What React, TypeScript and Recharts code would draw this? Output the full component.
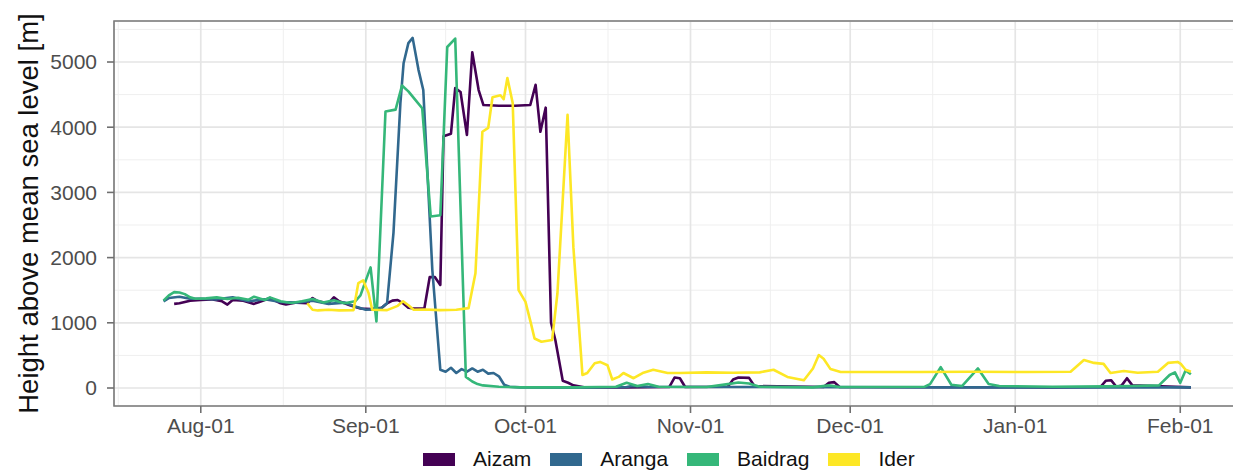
import { LineChart, Line, XAxis, YAxis, CartesianGrid, Legend, ReferenceArea } from 'recharts';

// days counted from Aug-01
const monthTicks = [0, 31, 61, 92, 122, 153, 184];
const monthLabels = ['Aug-01', 'Sep-01', 'Oct-01', 'Nov-01', 'Dec-01', 'Jan-01', 'Feb-01'];
const minorDays = [-15.5, 15.5, 46, 76.5, 107, 137.5, 168.5];
const heightTicks = [0, 1000, 2000, 3000, 4000, 5000];
const minorHeights = [500, 1500, 2500, 3500, 4500, 5500];

const seriesNames = ['Aizam', 'Aranga', 'Baidrag', 'Ider'];
const seriesColors = ['#440154', '#31688E', '#35B779', '#FDE725'];

// [day, height]
const aizam: [number, number][] = [
  [-5, 1290], [-4, 1300], [-2, 1340], [0, 1350], [2, 1360], [4, 1330], [5, 1280], [6, 1350],
  [8, 1340], [10, 1290], [11, 1320], [13, 1380], [15, 1300], [16, 1280], [18, 1310], [20, 1300],
  [21, 1380], [22, 1330], [24, 1300], [25, 1390], [26, 1330], [28, 1270], [30, 1220], [32, 1210],
  [34, 1230], [35, 1300], [36, 1340], [37, 1350], [38, 1300], [39, 1230], [40, 1220], [42, 1220],
  [43, 1700], [44, 1700], [45, 1580], [45.6, 3860], [47, 3900], [47.8, 4600], [48.8, 4540],
  [50, 3880], [51, 5150], [52.2, 4570], [53.1, 4340], [56, 4330], [59, 4330], [61.9, 4340],
  [62.9, 4650], [63.8, 3930], [64.8, 4300], [65.8, 1000], [66.6, 740], [68, 110], [69, 80],
  [70, 40], [72, 10], [80, 10], [88, 15], [89, 160], [90, 150], [91, 15], [99, 20], [100, 130],
  [101, 160], [103, 155], [104, 30], [117, 15], [118, 80], [119, 90], [120, 15], [160, 10],
  [169, 15], [170, 110], [171, 120], [172, 20], [173, 40], [174, 150], [175, 40], [186, 10],
];

const aranga: [number, number][] = [
  [-7, 1330], [-6, 1380], [-4, 1400], [-2, 1370], [0, 1370], [3, 1360], [6, 1390], [9, 1330],
  [12, 1360], [15, 1320], [18, 1310], [21, 1340], [24, 1290], [27, 1310], [29, 1250], [31, 1200],
  [33, 1210], [34, 1230], [35, 1300], [36.2, 2380], [37.5, 4370], [38.1, 4980], [39, 5290],
  [39.8, 5370], [40.9, 4880], [41.8, 4570], [43.5, 1810], [45, 280], [46, 250], [47, 310],
  [48, 230], [49, 290], [50, 250], [51, 300], [52, 250], [53, 280], [54, 220], [55, 230],
  [56, 180], [57, 50], [58, 20], [60, 10], [70, 5], [80, 15], [81, 30], [84, 20], [100, 15],
  [140, 10], [186, 10],
];

const baidrag: [number, number][] = [
  [-7, 1340], [-6, 1420], [-5, 1470], [-4, 1465], [-3, 1440], [-2, 1390], [-1, 1370], [1, 1375],
  [3, 1390], [5, 1365], [7, 1385], [9, 1355], [10, 1400], [12, 1350], [13, 1390], [15, 1330],
  [17, 1305], [19, 1330], [21, 1365], [23, 1310], [25, 1345], [27, 1300], [29, 1330], [30, 1420],
  [31, 1650], [31.9, 1850], [33, 1020], [34.7, 4240], [36.6, 4270], [37.8, 4640], [39, 4550],
  [40.5, 4400], [41.6, 4290], [43.2, 2630], [45, 2650], [46.3, 5230], [47.8, 5360], [49.8, 170],
  [51, 100], [52, 60], [53, 40], [56, 20], [60, 10], [70, 10], [75, 15], [78, 20], [80, 80],
  [82, 30], [84, 60], [86, 20], [95, 15], [99, 60], [101, 85], [103, 70], [105, 20], [115, 10],
  [118, 40], [120, 15], [136, 20], [137, 60], [139, 320], [141, 50], [143, 30], [146, 300],
  [148, 60], [150, 30], [160, 20], [170, 25], [175, 30], [180, 40], [182, 200], [183, 240],
  [184, 80], [185, 270], [186, 210],
];

const ider: [number, number][] = [
  [20, 1300], [21, 1200], [22, 1190], [24, 1200], [26, 1190], [28.7, 1195], [29.6, 1610],
  [30.5, 1650], [31.5, 1460], [32.2, 1200], [35, 1195], [37, 1260], [38, 1330], [39, 1270],
  [40, 1200], [42, 1205], [45, 1195], [48, 1200], [50.3, 1225], [51.6, 1760], [52.9, 3930],
  [54, 3990], [54.8, 4460], [56.3, 4490], [56.9, 4430], [57.6, 4755], [58.6, 4370], [59.7, 1500],
  [61, 1320], [62, 1000], [62.7, 760], [64, 710], [66, 735], [67, 1450], [68.9, 4190],
  [70, 2160], [71.7, 200], [72.6, 230], [74, 380], [75, 400], [76.4, 350], [77.3, 130],
  [78.5, 170], [79.4, 230], [81.3, 150], [83, 230], [85, 280], [87.7, 230], [90, 230], [95, 240],
  [100, 235], [105, 240], [107.6, 280], [110.2, 170], [113.3, 120], [115, 300], [116.1, 505],
  [117, 450], [118.3, 290], [120.2, 245], [125, 245], [135, 245], [145, 250], [155, 245],
  [163.4, 250], [165.9, 430], [167.8, 385], [169.6, 370], [170.9, 230], [173.4, 260], [176, 235],
  [179.8, 250], [181.7, 385], [183.5, 400], [184.1, 370], [185, 280], [186, 250],
];

const seriesData = [aizam, aranga, baidrag, ider];

const FONT = '"Liberation Sans", Arial, Helvetica, sans-serif';
const X_DOMAIN: [number, number] = [-16.3, 195.6];
const Y_DOMAIN: [number, number] = [-276, 5629];

const toPoints = (pairs: [number, number][]) => pairs.map(([d, v]) => ({ d, v }));

const renderTitle = (props: any) => {
  const vb = props.viewBox;
  const cx = vb.x + 38;
  const cy = vb.y + vb.height / 2;
  return (
    <text
      x={cx}
      y={cy}
      transform={`rotate(-90 ${cx} ${cy})`}
      textAnchor="middle"
      fontFamily={FONT}
      fontSize={27.5}
      fill="#111"
    >
      Height above mean sea level [m]
    </text>
  );
};

const KeyLegend = () => (
  <div
    style={{
      display: 'flex',
      alignItems: 'center',
      height: 30,
      paddingLeft: 423,
      fontFamily: FONT,
      fontSize: 21,
      color: '#111',
    }}
  >
    {seriesNames.map((name, i) => (
      <div key={name} style={{ display: 'flex', alignItems: 'center', marginRight: 19 }}>
        <span style={{ display: 'inline-block', width: 32, height: 13, background: seriesColors[i], marginRight: 18 }} />
        <span>{name}</span>
      </div>
    ))}
  </div>
);

export default function App() {
  return (
    <div style={{ position: 'absolute', left: 0, top: 0, width: 1233, height: 474, overflow: 'hidden', background: '#fff' }}>
      <LineChart width={1260} height={474} margin={{ top: 21, right: 18, bottom: 0, left: 0 }}>
        <CartesianGrid
          stroke="#EFEFEF"
          strokeWidth={1}
          horizontalValues={minorHeights}
          verticalValues={minorDays}
        />
        <CartesianGrid stroke="#E5E5E5" strokeWidth={1.7} />
        <XAxis
          type="number"
          dataKey="d"
          domain={X_DOMAIN}
          allowDataOverflow
          ticks={monthTicks}
          interval={0}
          tickFormatter={(d: number) => monthLabels[monthTicks.indexOf(d)] ?? ''}
          height={38}
          tickSize={7}
          tickMargin={5}
          axisLine={false}
          tickLine={{ stroke: '#6f6f6f', strokeWidth: 1.6 }}
          tick={{ fontSize: 21, fontFamily: FONT, fill: '#4D4D4D' }}
        />
        <YAxis
          type="number"
          domain={Y_DOMAIN}
          allowDataOverflow
          ticks={heightTicks}
          interval={0}
          width={114}
          tickSize={7}
          tickMargin={10}
          axisLine={false}
          tickLine={{ stroke: '#6f6f6f', strokeWidth: 1.6 }}
          tick={{ fontSize: 21, fontFamily: FONT, fill: '#4D4D4D' }}
          label={renderTitle}
        />
        {seriesData.map((pairs, i) => (
          <Line
            key={seriesNames[i]}
            data={toPoints(pairs)}
            dataKey="v"
            name={seriesNames[i]}
            type="linear"
            stroke={seriesColors[i]}
            strokeWidth={2.6}
            strokeLinejoin="round"
            dot={false}
            activeDot={false}
            isAnimationActive={false}
          />
        ))}
        <ReferenceArea
          x1={X_DOMAIN[0]}
          x2={X_DOMAIN[1]}
          y1={Y_DOMAIN[0]}
          y2={Y_DOMAIN[1]}
          fill="none"
          stroke="#7a7a7a"
          strokeWidth={1.6}
        />
        <Legend verticalAlign="bottom" wrapperStyle={{ left: 0, width: 1233 }} content={<KeyLegend />} />
      </LineChart>
    </div>
  );
}
